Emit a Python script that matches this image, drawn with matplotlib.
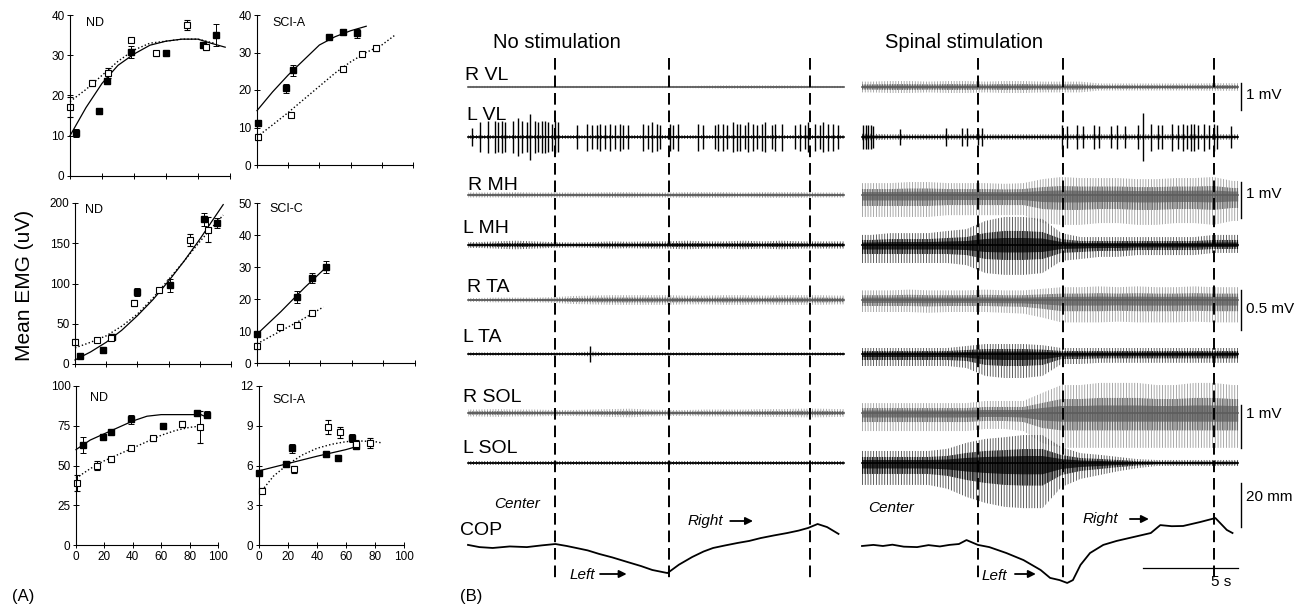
import numpy as np
import matplotlib
matplotlib.use("Agg")
import matplotlib.pyplot as plt

plt.rcParams['font.family'] = ['Liberation Sans', 'DejaVu Sans']
plt.rcParams['hatch.linewidth'] = 0.6

# ---------------- (A) mean EMG vs. load (% body weight) ----------------
load_ticks = [0, 20, 40, 60, 80, 100]

# top-left: ND, 0-40 uV
tl_fill_x = [3.5, 18, 23, 38, 60, 83, 91]
tl_fill_y = [10.7, 16.1, 23.6, 30.8, 30.5, 32.5, 35.0]
tl_fill_e = [1.0, 0.8, 0.8, 1.5, 0.8, 0.8, 2.8]
tl_open_x = [0, 14, 23.5, 38, 54, 73, 85]
tl_open_y = [17.1, 23.1, 25.6, 33.8, 30.5, 37.5, 32.0]
tl_open_e = [2.5, 0.8, 1.2, 0.6, 0.6, 1.2, 0.6]
tl_fit_fill_x = [0, 10, 20, 30, 40, 50, 60, 70, 80, 88, 97]
tl_fit_fill_y = [10, 17, 23, 27.5, 30.3, 32.5, 33.5, 34, 34, 33, 32]
tl_fit_open_x = [0, 10, 20, 30, 40, 50, 60, 70, 80, 90]
tl_fit_open_y = [18.5, 21.5, 25, 28.5, 31.3, 33, 33.5, 34, 34, 33]

# top-right: SCI-A, 0-40 uV
tr_fill_x = [0.5, 18.5, 23, 46, 55, 64]
tr_fill_y = [11.2, 20.5, 25.3, 34.1, 35.5, 35.1]
tr_fill_e = [0.8, 1.2, 1.5, 0.6, 0.8, 1.2]
tr_open_x = [0.5, 21.5, 55, 67, 76]
tr_open_y = [7.5, 13.3, 25.6, 29.6, 31.1]
tr_open_e = [0.8, 0.6, 0.6, 0.6, 0.6]
tr_fit_fill_x = [0, 10, 20, 30, 40, 50, 60, 70]
tr_fit_fill_y = [14.5, 19.5, 24, 28, 32, 34.2, 35.8, 37]
tr_fit_open_x = [0, 10, 20, 30, 40, 50, 60, 70, 80, 88]
tr_fit_open_y = [7.5, 10.7, 14, 17.5, 21, 24.5, 27.5, 30, 32, 34.5]

# middle-left: ND, 0-200 uV
ml_fill_x = [3, 18, 24, 40, 61, 83, 91]
ml_fill_y = [10, 17, 33, 89, 98, 180, 175]
ml_fill_e = [3, 3, 3, 5, 8, 8, 6]
ml_open_x = [0, 14, 23, 38, 54, 74, 85]
ml_open_y = [27, 30, 32, 76, 92, 154, 167]
ml_open_e = [4, 2, 2, 4, 3, 8, 15]
ml_fit_fill_x = [0, 10, 20, 30, 40, 50, 60, 70, 80, 88, 95]
ml_fit_fill_y = [5, 15, 27, 42, 60, 80, 103, 128, 155, 178, 198]
ml_fit_open_x = [0, 10, 20, 30, 40, 50, 60, 70, 80, 88, 95]
ml_fit_open_y = [20, 27, 35, 47, 62, 82, 105, 128, 152, 170, 185]

# middle-right: SCI-C, 0-50 uV
mr_fill_x = [0, 25, 35, 43.5]
mr_fill_y = [9, 20.6, 26.5, 30]
mr_fill_e = [0.8, 2, 1.5, 1.8]
mr_open_x = [0, 14.5, 25, 35]
mr_open_y = [5.3, 11.3, 12, 15.6]
mr_open_e = [0.8, 0.5, 0.5, 0.5]
mr_fit_fill_x = [0, 15, 30, 45]
mr_fit_fill_y = [9, 16, 23.5, 30.5]
mr_fit_open_x = [0, 15, 30, 42]
mr_fit_open_y = [6, 10, 14, 17.5]

# bottom-left: ND, 0-100 uV
bl_fill_x = [5, 19, 24.5, 39, 61, 85, 92.5]
bl_fill_y = [63, 68, 71, 79, 75, 83, 82]
bl_fill_e = [5, 2, 1.5, 3, 1.5, 1.5, 2]
bl_open_x = [0.5, 15, 24.5, 39, 54, 74.5, 87]
bl_open_y = [39, 50, 54, 61, 67, 76, 74]
bl_open_e = [5, 3, 1.5, 1.5, 1.5, 2, 10]
bl_fit_fill_x = [0, 10, 20, 30, 40, 50, 60, 70, 80, 88, 93]
bl_fit_fill_y = [60, 66, 70, 74, 78, 81, 82, 82, 82, 82, 80]
bl_fit_open_x = [0, 10, 20, 30, 40, 50, 60, 70, 80, 90]
bl_fit_open_y = [42, 48, 53, 57, 61, 65, 69, 72, 74, 75]

# bottom-right: SCI-A, 0-12 uV
br_fill_x = [0, 18.5, 22.5, 46.5, 54.5, 64, 67]
br_fill_y = [5.4, 6.1, 7.3, 6.9, 6.6, 8.1, 7.5]
br_fill_e = [0.2, 0.15, 0.35, 0.1, 0.15, 0.3, 0.2]
br_open_x = [2, 24, 47.5, 56, 67, 76.5]
br_open_y = [4.1, 5.7, 8.9, 8.5, 7.6, 7.7]
br_open_e = [0.2, 0.3, 0.55, 0.4, 0.3, 0.4]
br_fit_fill_x = [0, 20, 40, 60, 68]
br_fit_fill_y = [5.6, 6.15, 6.7, 7.2, 7.45]
br_fit_open_x = [2, 10, 20, 30, 40, 50, 60, 70, 80, 85]
br_fit_open_y = [4.1, 5.2, 6.1, 6.8, 7.3, 7.6, 7.8, 7.85, 7.8, 7.7]

# ---------------- (B) EMG and centre of pressure ----------------
channels = ['R VL', 'L VL', 'R MH', 'L MH', 'R TA', 'L TA', 'R SOL', 'L SOL']
bin_centres = [0.5, 1.5, 2.5, 3.5, 4.5, 5.5, 6.5, 7.5, 8.5, 9.5,
               10.5, 11.5, 12.5, 13.5, 14.5, 15.5, 16.5, 17.5, 18.5, 19.5]
trace_end = 19.8  # s

# envelope (mV) above / below baseline, 1-s bins, no stimulation
ns_up = {
    'R VL': [0.04, 0.04, 0.04, 0.04, 0.04, 0.04, 0.04, 0.04, 0.04, 0.04, 0.04, 0.04, 0.05, 0.06, 0.06, 0.06, 0.06, 0.05, 0.04, 0.04],
    'L VL': [0.07, 0.07, 0.07, 0.07, 0.07, 0.07, 0.07, 0.07, 0.07, 0.07, 0.07, 0.07, 0.07, 0.07, 0.07, 0.07, 0.07, 0.07, 0.07, 0.07],
    'R MH': [0.07, 0.07, 0.08, 0.07, 0.07, 0.07, 0.07, 0.08, 0.08, 0.07, 0.07, 0.08, 0.08, 0.08, 0.07, 0.08, 0.08, 0.08, 0.07, 0.07],
    'L MH': [0.08, 0.10, 0.12, 0.10, 0.08, 0.07, 0.08, 0.10, 0.09, 0.10, 0.10, 0.12, 0.10, 0.10, 0.12, 0.10, 0.12, 0.10, 0.10, 0.10],
    'R TA': [0.025, 0.03, 0.03, 0.03, 0.035, 0.05, 0.055, 0.06, 0.06, 0.06, 0.06, 0.055, 0.055, 0.06, 0.06, 0.055, 0.06, 0.06, 0.06, 0.055],
    'L TA': [0.02, 0.02, 0.02, 0.02, 0.02, 0.02, 0.03, 0.02, 0.02, 0.02, 0.02, 0.02, 0.02, 0.02, 0.02, 0.02, 0.02, 0.02, 0.02, 0.02],
    'R SOL': [0.08, 0.09, 0.08, 0.08, 0.07, 0.07, 0.08, 0.09, 0.10, 0.08, 0.07, 0.07, 0.08, 0.08, 0.08, 0.09, 0.09, 0.10, 0.10, 0.09],
    'L SOL': [0.035, 0.035, 0.035, 0.035, 0.035, 0.035, 0.035, 0.035, 0.035, 0.035, 0.035, 0.035, 0.035, 0.035, 0.035, 0.035, 0.035, 0.035, 0.035, 0.035],
}
ns_dn = dict(ns_up)

# envelope (mV), spinal stimulation
ss_up = {
    'R VL': [0.20, 0.22, 0.22, 0.20, 0.22, 0.22, 0.20, 0.22, 0.22, 0.20, 0.20, 0.20, 0.13, 0.13, 0.13, 0.13, 0.13, 0.13, 0.14, 0.14],
    'L VL': [0.12, 0.10, 0.10, 0.10, 0.10, 0.10, 0.10, 0.10, 0.10, 0.10, 0.10, 0.10, 0.10, 0.10, 0.10, 0.10, 0.10, 0.10, 0.10, 0.10],
    'R MH': [0.33, 0.33, 0.36, 0.36, 0.33, 0.33, 0.33, 0.31, 0.33, 0.44, 0.50, 0.47, 0.47, 0.47, 0.44, 0.44, 0.47, 0.47, 0.50, 0.39],
    'L MH': [0.28, 0.33, 0.33, 0.33, 0.39, 0.44, 0.67, 0.78, 0.78, 0.72, 0.33, 0.22, 0.22, 0.22, 0.22, 0.22, 0.22, 0.22, 0.28, 0.28],
    'R TA': [0.12, 0.12, 0.13, 0.12, 0.12, 0.12, 0.13, 0.12, 0.12, 0.14, 0.16, 0.16, 0.17, 0.16, 0.17, 0.16, 0.16, 0.17, 0.16, 0.16],
    'L TA': [0.075, 0.075, 0.075, 0.075, 0.075, 0.10, 0.125, 0.125, 0.125, 0.11, 0.075, 0.075, 0.075, 0.075, 0.075, 0.075, 0.075, 0.075, 0.075, 0.075],
    'R SOL': [0.23, 0.23, 0.23, 0.23, 0.23, 0.23, 0.28, 0.28, 0.28, 0.47, 0.65, 0.65, 0.70, 0.70, 0.70, 0.65, 0.65, 0.70, 0.70, 0.65],
    'L SOL': [0.28, 0.28, 0.28, 0.28, 0.33, 0.47, 0.56, 0.60, 0.65, 0.65, 0.37, 0.23, 0.19, 0.14, 0.09, 0.07, 0.07, 0.07, 0.07, 0.07],
}
ss_dn = {
    'R VL': ss_up['R VL'],
    'L VL': ss_up['L VL'],
    'R MH': [0.61, 0.61, 0.61, 0.61, 0.56, 0.56, 0.56, 0.56, 0.56, 0.78, 0.83, 0.83, 0.78, 0.78, 0.83, 0.83, 0.78, 0.78, 0.83, 0.72],
    'L MH': [0.50, 0.50, 0.50, 0.50, 0.50, 0.56, 0.78, 0.83, 0.83, 0.78, 0.44, 0.39, 0.33, 0.33, 0.28, 0.28, 0.28, 0.28, 0.22, 0.22],
    'R TA': [0.15, 0.15, 0.15, 0.16, 0.15, 0.15, 0.15, 0.16, 0.17, 0.22, 0.28, 0.28, 0.28, 0.27, 0.28, 0.28, 0.28, 0.27, 0.28, 0.28],
    'L TA': [0.15, 0.15, 0.15, 0.15, 0.15, 0.175, 0.275, 0.30, 0.30, 0.275, 0.125, 0.125, 0.11, 0.11, 0.11, 0.11, 0.11, 0.11, 0.11, 0.11],
    'R SOL': [0.42, 0.42, 0.42, 0.42, 0.42, 0.42, 0.37, 0.37, 0.42, 0.70, 0.81, 0.81, 0.81, 0.81, 0.81, 0.81, 0.81, 0.81, 0.81, 0.81],
    'L SOL': [0.51, 0.51, 0.51, 0.51, 0.60, 0.79, 0.93, 1.02, 1.05, 1.05, 0.56, 0.37, 0.28, 0.19, 0.12, 0.07, 0.07, 0.07, 0.07, 0.07],
}

# discrete motor-unit bursts (time s, amplitude mV)
ns_lvl_spike_t = [0.19, 0.63, 1.07, 1.42, 1.6, 1.77, 1.95, 2.39, 2.65, 2.82,
                  3.09, 3.26, 3.53, 3.7, 3.88, 4.05, 4.23, 4.4, 4.58, 4.75,
                  5.72, 6.25, 6.51, 6.77, 6.95, 7.21, 7.47, 7.74, 8.0, 8.18,
                  8.44, 9.23, 9.49, 9.67, 9.93, 10.1, 10.63, 10.8, 11.07, 12.12,
                  12.39, 13.0, 13.18, 13.44, 13.61, 13.96, 14.14, 14.32, 14.58, 14.75,
                  15.02, 15.19, 15.46, 15.63, 15.98, 16.16, 16.51, 17.21, 17.47, 17.74,
                  17.91, 18.26, 18.53, 18.7, 18.96, 19.23, 19.49]
ns_lvl_spike_a = [0.35, 0.55, 0.6, 0.6, 0.55, 0.6, 0.55, 0.6, 0.7, 0.6,
                  0.55, 0.85, 0.6, 0.55, 0.6, 0.6, 0.55, 0.5, 0.6, 0.55,
                  0.45, 0.5, 0.45, 0.45, 0.5, 0.45, 0.5, 0.45, 0.5, 0.45,
                  0.45, 0.5, 0.45, 0.55, 0.5, 0.45, 0.5, 0.45, 0.5, 0.5,
                  0.45, 0.45, 0.5, 0.5, 0.45, 0.55, 0.5, 0.5, 0.45, 0.55,
                  0.5, 0.45, 0.5, 0.55, 0.45, 0.5, 0.5, 0.45, 0.5, 0.45,
                  0.55, 0.5, 0.45, 0.55, 0.5, 0.5, 0.45]
ns_lta_spike_t = [6.4]
ns_lta_spike_a = [0.1]
ss_lvl_spike_t = [0.07, 0.21, 0.33, 0.46, 0.6, 2.0, 4.4, 5.25, 5.5, 6.1,
                  6.3, 10.5, 10.8, 11.3, 11.65, 12.2, 12.45, 13.1, 13.4, 13.85,
                  14.55, 14.8, 15.2, 15.6, 15.8, 16.3, 16.65, 16.9, 17.1, 17.3,
                  17.45, 17.7, 18.0, 18.25, 18.5, 18.7, 19.4]
ss_lvl_spike_a = [0.45, 0.45, 0.45, 0.45, 0.4, 0.3, 0.35, 0.35, 0.35, 0.3,
                  0.35, 0.45, 0.4, 0.45, 0.4, 0.45, 0.4, 0.4, 0.45, 0.4,
                  0.45, 0.9, 0.5, 0.45, 0.45, 0.5, 0.45, 0.5, 0.45, 0.5,
                  0.5, 0.45, 0.5, 0.45, 0.5, 0.45, 0.4]

# centre of pressure (time s, mm; positive = right)
ns_cop_t = [0.0, 0.6, 1.3, 2.2, 3.1, 3.9, 4.6, 5.2, 5.7, 6.3, 6.9, 7.6, 8.4, 9.1, 9.7, 10.5,
            11.1, 11.8, 12.4, 12.9, 13.5, 14.2, 14.8, 15.4, 16.1, 16.8, 17.4, 17.9, 18.4, 18.9, 19.5]
ns_cop_mm = [0.5, -0.5, -0.9, -0.2, -0.5, 0.3, 0.9, 0.0, -0.9, -2.0, -3.6, -5.2, -7.3, -9.1, -10.9, -12.3,
             -8.5, -5.0, -2.5, -0.9, 0.2, 1.4, 2.3, 3.6, 4.8, 5.9, 7.0, 8.2, 10.0, 8.6, 5.5]
ss_cop_t = [0.0, 0.6, 1.1, 1.6, 2.2, 2.9, 3.5, 4.1, 4.6, 5.1, 5.5, 6.1, 6.7, 7.6, 8.5, 9.4, 9.9,
            10.4, 10.8, 11.1, 11.5, 12.0, 12.7, 13.4, 14.3, 15.2, 15.7, 16.3, 16.9, 17.8, 18.6, 18.8, 19.2, 19.5]
ss_cop_mm = [0.0, 0.5, 0.0, 0.6, -0.3, -0.5, 0.4, -0.2, 0.5, 0.9, 2.7, 0.5, -0.5, -3.2, -6.4, -10.9, -14.5,
             -15.5, -16.8, -15.5, -8.6, -3.2, 0.5, 2.3, 4.1, 5.9, 9.5, 9.0, 9.1, 10.9, 12.7, 10.9, 7.3, 5.9]

ns_marks = [4.6, 10.6, 18.0]   # s, vertical event markers
ss_marks = [6.1, 10.6, 18.5]

# ---------------- figure ----------------
W, H = 1301, 607
fig = plt.figure(figsize=(W / 100, H / 100), dpi=100)


def px_axes(left, top, right, bottom):
    return fig.add_axes([left / W, 1 - bottom / H, (right - left) / W, (bottom - top) / H])


def scatter_panel(box, ymax, yticks, title, tpos, fill, opn, fit_f, fit_o, xlabels):
    ax = px_axes(*box)
    ax.set_xlim(0, 100)
    ax.set_ylim(0, ymax)
    ax.patch.set_alpha(0)
    for s in ('top', 'right'):
        ax.spines[s].set_visible(False)
    for s in ('left', 'bottom'):
        ax.spines[s].set_linewidth(0.8)
    ax.set_xticks(load_ticks)
    ax.set_yticks(yticks)
    ax.tick_params(direction='inout', length=4, width=0.7, labelsize=8.5, pad=2)
    if not xlabels:
        ax.set_xticklabels([])
    ax.plot(*fit_f, color='k', lw=0.9, clip_on=False)
    ax.plot(*fit_o, color='k', lw=1.0, ls=(0, (1, 1.6)), clip_on=False)
    ax.errorbar(fill[0], fill[1], yerr=fill[2], fmt='s', ms=4.2, mfc='k', mec='k',
                ecolor='k', elinewidth=0.7, capsize=2, capthick=0.7, clip_on=False)
    ax.errorbar(opn[0], opn[1], yerr=opn[2], fmt='s', ms=4.2, mfc='white', mec='k', mew=0.8,
                ecolor='k', elinewidth=0.7, capsize=2, capthick=0.7, clip_on=False)
    ax.text(tpos[0], tpos[1], title, transform=ax.transAxes, fontsize=9, va='center', ha='left')
    return ax


scatter_panel((70, 15, 230, 176), 40, [0, 10, 20, 30, 40], 'ND', (0.10, 0.95),
              (tl_fill_x, tl_fill_y, tl_fill_e), (tl_open_x, tl_open_y, tl_open_e),
              (tl_fit_fill_x, tl_fit_fill_y), (tl_fit_open_x, tl_fit_open_y), False)
scatter_panel((257, 15, 413, 165), 40, [0, 10, 20, 30, 40], 'SCI-A', (0.10, 0.95),
              (tr_fill_x, tr_fill_y, tr_fill_e), (tr_open_x, tr_open_y, tr_open_e),
              (tr_fit_fill_x, tr_fit_fill_y), (tr_fit_open_x, tr_fit_open_y), False)
scatter_panel((75, 203, 231, 364), 200, [0, 50, 100, 150, 200], 'ND', (0.065, 0.955),
              (ml_fill_x, ml_fill_y, ml_fill_e), (ml_open_x, ml_open_y, ml_open_e),
              (ml_fit_fill_x, ml_fit_fill_y), (ml_fit_open_x, ml_fit_open_y), False)
scatter_panel((257, 203, 415, 363), 50, [0, 10, 20, 30, 40, 50], 'SCI-C', (0.08, 0.965),
              (mr_fill_x, mr_fill_y, mr_fill_e), (mr_open_x, mr_open_y, mr_open_e),
              (mr_fit_fill_x, mr_fit_fill_y), (mr_fit_open_x, mr_fit_open_y), False)
scatter_panel((76, 386, 218, 545), 100, [0, 25, 50, 75, 100], 'ND', (0.10, 0.925),
              (bl_fill_x, bl_fill_y, bl_fill_e), (bl_open_x, bl_open_y, bl_open_e),
              (bl_fit_fill_x, bl_fit_fill_y), (bl_fit_open_x, bl_fit_open_y), True)
scatter_panel((259, 386, 404, 545), 12, [0, 3, 6, 9, 12], 'SCI-A', (0.09, 0.91),
              (br_fill_x, br_fill_y, br_fill_e), (br_open_x, br_open_y, br_open_e),
              (br_fit_fill_x, br_fit_fill_y), (br_fit_open_x, br_fit_open_y), True)

fig.text(25 / W, 1 - 285 / H, 'Mean EMG (uV)', rotation=90, ha='center', va='center', fontsize=15)
fig.text(12 / W, 1 - 596 / H, '(A)', fontsize=12, va='center', ha='left')
fig.text(460 / W, 1 - 596 / H, '(B)', fontsize=12, va='center', ha='left')

# ---- (B) trace panels: x in seconds, y in display rows ----
row_base = [87, 137, 195, 245, 300, 354, 413, 463]
row_gain = [27, 27, 36, 36, 80, 80, 43, 43]      # px per mV, from the calibration bars
cop_base, cop_gain = 546, 2.2                    # px per mm
PX_PER_S = 19.0


def trace_axes(left_px, right_px, zero_px):
    ax = px_axes(left_px, 40, right_px, 600)
    ax.set_xlim((left_px - zero_px) / PX_PER_S, (right_px - zero_px) / PX_PER_S)
    ax.set_ylim(600, 40)
    ax.axis('off')
    return ax


def emg_band(ax, base, gain, up, dn, color, light):
    t = np.r_[0.0, bin_centres, trace_end]
    u = np.r_[up[0], up, up[-1]] * gain
    d = np.r_[dn[0], dn, dn[-1]] * gain
    # sparse outer spikes, dense inner core
    ax.fill_between(t, base - u, base + d, facecolor='none', edgecolor=light,
                    hatch='||||||', linewidth=0)
    ax.fill_between(t, base - 0.5 * u, base + 0.5 * d, facecolor='none', edgecolor=color,
                    hatch='||||||||||', linewidth=0)
    ax.fill_between(t, base - 0.25 * u, base + 0.25 * d, facecolor=color, alpha=0.7, linewidth=0)
    ax.plot([0, trace_end], [base, base], color=color, lw=1.2)


def spikes(ax, base, gain, ts, amps, color='k', lw=1.0):
    a = np.asarray(amps) * gain
    ax.vlines(ts, base - a, base + a, color=color, lw=lw)


def draw_traces(ax, up, dn, marks, cop_t, cop_mm):
    for name, base, gain in zip(channels, row_base, row_gain):
        if name.startswith('R'):
            color, light = '#5c5c5c', '#9a9a9a'
        else:
            color, light = 'k', '#444444'
        emg_band(ax, base, gain, np.asarray(up[name]), np.asarray(dn[name]), color, light)
    ax.vlines(marks, 58, 582, color='k', lw=1.4, linestyles=(0, (6, 3)))
    ax.plot(cop_t, cop_base - np.asarray(cop_mm) * cop_gain, color='k', lw=1.3)


axL = trace_axes(455, 850, 468)
draw_traces(axL, ns_up, ns_dn, ns_marks, ns_cop_t, ns_cop_mm)
spikes(axL, row_base[1], row_gain[1], ns_lvl_spike_t, ns_lvl_spike_a)
spikes(axL, row_base[5], row_gain[5], ns_lta_spike_t, ns_lta_spike_a)

axR = trace_axes(852, 1301, 862)
draw_traces(axR, ss_up, ss_dn, ss_marks, ss_cop_t, ss_cop_mm)
spikes(axR, row_base[1], row_gain[1], ss_lvl_spike_t, ss_lvl_spike_a)

# titles and channel labels
axL.text(1.32, 48, 'No stimulation', fontsize=14.5, va='baseline')
axR.text(1.21, 48, 'Spinal stimulation', fontsize=14.5, va='baseline')
label_x = [-0.16, -0.05, 0.0, -0.26, -0.05, -0.26, -0.26, -0.26]
label_y = [80, 120, 190, 233, 292, 342, 402, 453]
for name, lx, ly in zip(channels, label_x, label_y):
    axL.text(lx, ly, name, fontsize=14, va='baseline')
axL.text(-0.42, 535, 'COP', fontsize=14, va='baseline')


def direction(ax, word, tx, ty, a0, a1, ay):
    ax.text(tx, ty, word, fontsize=11, style='italic', va='baseline')
    ax.annotate('', xy=(a1, ay), xytext=(a0, ay),
                arrowprops=dict(arrowstyle='-|>', color='k', lw=1.3, mutation_scale=11,
                                shrinkA=0, shrinkB=0))


axL.text(3.79, 508, 'Center', fontsize=11, style='italic', va='baseline', ha='right')
direction(axL, 'Left', 5.37, 579, 6.95, 8.35, 574)
direction(axL, 'Right', 11.53, 525, 13.8, 15.0, 521)
axR.text(0.32, 512, 'Center', fontsize=11, style='italic', va='baseline')
direction(axR, 'Left', 6.3, 580, 8.05, 9.15, 574)
direction(axR, 'Right', 11.6, 523, 14.1, 15.1, 519)

# calibration bars
bar_t = (1241 - 862) / PX_PER_S
lab_t = (1246 - 862) / PX_PER_S
cal_amount = [1.0, 1.0, 0.5, 1.0]
cal_text = ['1 mV', '1 mV', '0.5 mV', '1 mV']
cal_top = [83, 182, 290, 405]
cal_label_y = [95, 194, 309, 414]
cal_gain = [row_gain[0], row_gain[2], row_gain[4], row_gain[6]]
for amt, txt, top, ly, g in zip(cal_amount, cal_text, cal_top, cal_label_y, cal_gain):
    axR.plot([bar_t, bar_t], [top, top + amt * g], color='k', lw=1.0, clip_on=False)
    axR.text(lab_t, ly, txt, fontsize=11, va='center')
cop_cal_mm = 20
axR.plot([bar_t, bar_t], [483, 483 + cop_cal_mm * cop_gain], color='k', lw=1.0)
axR.text(lab_t, 497, '20 mm', fontsize=11, va='center')
time_cal_s = 5
axR.plot([trace_end - time_cal_s, trace_end], [568, 568], color='k', lw=0.9)
axR.text(18.9, 582, '5 s', fontsize=11, va='center', ha='center')

fig.savefig('out.png', dpi=100)
